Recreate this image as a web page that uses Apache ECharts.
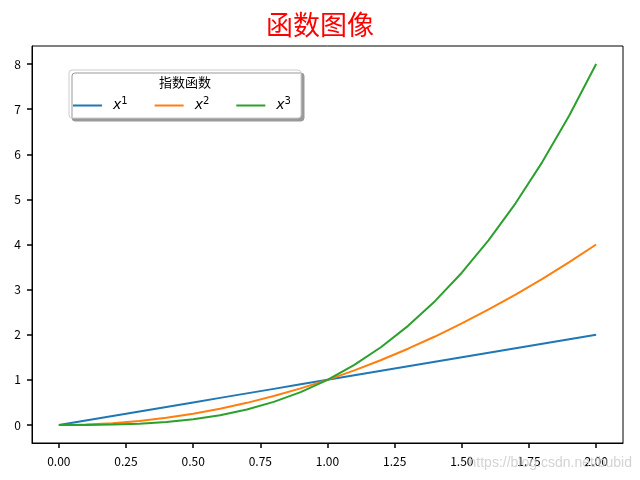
<!DOCTYPE html>
<html><head><meta charset="utf-8">
<script src="https://cdn.jsdelivr.net/npm/echarts@6/dist/echarts.min.js"></script>
<style>html,body{margin:0;padding:0;background:#fff}#c{width:640px;height:480px}</style>
</head><body><div id="c"></div>
<script>
const xs = [0,0.1,0.2,0.3,0.4,0.5,0.6,0.7,0.8,0.9,1.0,1.1,1.2,1.3,1.4,1.5,1.6,1.7,1.8,1.9,2.0];
const y1 = [0,0.1,0.2,0.3,0.4,0.5,0.6,0.7,0.8,0.9,1.0,1.1,1.2,1.3,1.4,1.5,1.6,1.7,1.8,1.9,2.0];
const y2 = [0,0.01,0.04,0.09,0.16,0.25,0.36,0.49,0.64,0.81,1.0,1.21,1.44,1.69,1.96,2.25,2.56,2.89,3.24,3.61,4.0];
const y3 = [0,0.001,0.008,0.027,0.064,0.125,0.216,0.343,0.512,0.729,1.0,1.331,1.728,2.197,2.744,3.375,4.096,4.913,5.832,6.859,8.0];
const xTicks = [0,0.25,0.5,0.75,1.0,1.25,1.5,1.75,2.0];
const yTicks = [0,1,2,3,4,5,6,7,8];
const names = ['x1','x2','x3'];
const colors = ['#1f77b4','#ff7f0e','#2ca02c'];
const font = "'Noto Sans CJK SC', 'DejaVu Sans', sans-serif";
const pair = (ys) => xs.map((x,i)=>[x, ys[i]]);
const chart = echarts.init(document.getElementById('c'));
chart.setOption({
  animation:false,
  title:{text:'函数图像', left:'center', top:6, textStyle:{color:'#ff0000', fontSize:27, fontWeight:'normal', fontFamily:font}},
  grid:{left:32, right:17, top:46, bottom:37, show:true, borderColor:'#000', borderWidth:1, backgroundColor:'transparent'},
  xAxis:{type:'value', min:-0.1, max:2.1,
    axisLine:{show:true, onZero:false, lineStyle:{color:'#000', width:1}}, splitLine:{show:false},
    axisTick:{show:true, length:5, inside:false, lineStyle:{color:'#000', width:1.5}, customValues:xTicks},
    axisLabel:{color:'#000', fontSize:12, fontFamily:font, margin:12, customValues:xTicks, formatter:v=>v.toFixed(2)}},
  yAxis:{type:'value', min:-0.4, max:8.4,
    axisLine:{show:true, onZero:false, lineStyle:{color:'#000', width:1}}, splitLine:{show:false},
    axisTick:{show:true, length:5, inside:false, lineStyle:{color:'#000', width:1.5}, customValues:yTicks},
    axisLabel:{color:'#000', fontSize:12, fontFamily:font, margin:11, customValues:yTicks, formatter:v=>String(v)}},
  graphic:[
    {type:'rect', z:3, shape:{x:69, y:70, width:232, height:48, r:3},
      style:{fill:'#fff', stroke:'#cccccc', lineWidth:1, shadowColor:'#999', shadowOffsetX:3, shadowOffsetY:3, shadowBlur:0}},
    {type:'text', z:4, x:185, y:82, style:{text:'指数函数', fontSize:13, fontFamily:font, fill:'#000', align:'center', verticalAlign:'middle'}},
    {type:'text', z:1, x:632, y:463, style:{text:'https://blog.csdn.net/bubid', fontSize:14, fontFamily:'Liberation Sans, sans-serif', fill:'rgba(200,200,200,0.8)', align:'right', verticalAlign:'middle'}}
  ],
  legend:{z:5, left:68, top:91, itemWidth:29, itemHeight:2, itemGap:27, icon:'rect',
    data:names,
    formatter:n=>'{p|}{a|x}{b|'+n.slice(1)+'}',
    textStyle:{fontFamily:'DejaVu Sans', color:'#000',
      rich:{p:{width:6}, a:{fontStyle:'italic', fontSize:14, fontFamily:'DejaVu Sans'}, b:{fontSize:10, fontFamily:'DejaVu Sans', padding:[0,0,9,0]}}}},
  series:[
    {name:'x1', type:'line', data:pair(y1), symbol:'none', lineStyle:{width:2, color:colors[0]}, itemStyle:{color:colors[0]}},
    {name:'x2', type:'line', data:pair(y2), symbol:'none', lineStyle:{width:2, color:colors[1]}, itemStyle:{color:colors[1]}},
    {name:'x3', type:'line', data:pair(y3), symbol:'none', lineStyle:{width:2, color:colors[2]}, itemStyle:{color:colors[2]}}
  ]
});
</script></body></html>
